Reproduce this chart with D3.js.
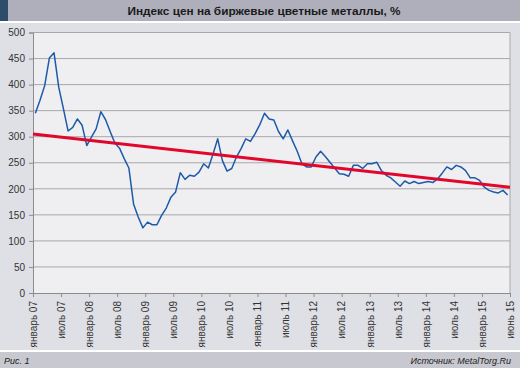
<!DOCTYPE html>
<html><head><meta charset="utf-8">
<script src="https://cdn.jsdelivr.net/npm/d3@7"></script>
<style>body{margin:0;background:#dfe0e5;}svg{display:block;}</style>
</head><body>
<script>
const titleText = "Индекс цен на биржевые цветные металлы, %";
const figLabel = "Рис. 1";
const sourceLabel = "Источник: MetalTorg.Ru";
// monthly index, January 2007 – June 2015
const values = [345,370,398,451,461,395,354,311,318,334,322,283,
  299,315,348,333,310,288,278,258,240,171,146,125,
  136,131,131,149,163,184,194,231,218,226,224,232,
  248,240,267,296,254,234,239,261,277,296,291,306,
  323,345,334,332,310,296,313,292,272,248,242,242,
  261,272,262,251,240,229,228,224,245,245,239,248,
  248,251,235,226,221,213,205,215,210,214,210,212,
  214,212,219,230,242,237,245,242,235,221,221,216,
  203,197,194,192,197,188];
const trendEnds = [305, 203];
const tickMonths = [0,6,12,18,24,30,36,42,48,54,60,66,72,78,84,90,96,102];
const tickLabels = ["январь 07","июль 07","январь 08","июль 08","январь 09","июль 09",
  "январь 10","июль 10","январь 11","июль 11","январь 12","июль 12",
  "январь 13","июль 13","январь 14","июль 14","январь 15","июнь 15"];
const yTicks = [0,50,100,150,200,250,300,350,400,450,500];

const W=520,H=368;
const svg=d3.select("body").append("svg").attr("width",W).attr("height",H);
const font="'Liberation Sans', Arial, Helvetica, sans-serif";

// backgrounds
svg.append("rect").attr("width",W).attr("height",H).attr("fill","#dfe0e5");
svg.append("rect").attr("width",W).attr("height",21).attr("fill","#aeafbb");
svg.append("rect").attr("width",8).attr("height",21).attr("fill","#2e4d6b");
svg.append("rect").attr("y",21).attr("width",W).attr("height",2).attr("fill","#ffffff");
svg.append("rect").attr("y",350).attr("width",W).attr("height",2).attr("fill","#ffffff");
svg.append("rect").attr("y",352).attr("width",W).attr("height",16).attr("fill","#c7c8d0");

svg.append("text").attr("x",264).attr("y",15).attr("text-anchor","middle")
  .attr("font-family",font).attr("font-weight","bold").attr("font-size",11.8)
  .attr("fill","#1a1a1a").text(titleText);
svg.append("text").attr("x",4).attr("y",364).attr("font-family",font)
  .attr("font-style","italic").attr("font-size",9).attr("fill","#222").text(figLabel);
svg.append("text").attr("x",511).attr("y",364).attr("text-anchor","end").attr("font-family",font)
  .attr("font-style","italic").attr("font-size",9).attr("fill","#222").text(sourceLabel);

const L=33,R=510,T=32.5,B=293;
const x=d3.scaleLinear().domain([0,102]).range([L,R]);
const y=d3.scaleLinear().domain([0,500]).range([B,T]);

svg.append("rect").attr("x",L).attr("y",T).attr("width",R-L).attr("height",B-T).attr("fill","#efeff2");

// grid
svg.append("g").selectAll("line").data(yTicks.filter(d=>d>0)).join("line")
  .attr("x1",L).attr("x2",R).attr("y1",d=>y(d)).attr("y2",d=>y(d))
  .attr("stroke","#a8a8ac").attr("stroke-width",1);
svg.append("line").attr("x1",R).attr("x2",R).attr("y1",T).attr("y2",B)
  .attr("stroke","#a8a8ac").attr("stroke-width",1);

// y axis
const ya=svg.append("g").attr("transform",`translate(${L},0)`)
  .call(d3.axisLeft(y).tickValues(yTicks).tickSize(4).tickPadding(4));
ya.select(".domain").attr("stroke","#8c8c90");
ya.selectAll(".tick line").attr("stroke","#8c8c90");
ya.selectAll("text").attr("font-family",font).attr("font-size",10).attr("fill","#333");

// x axis
const xa=svg.append("g").attr("transform",`translate(0,${B})`)
  .call(d3.axisBottom(x).tickValues(tickMonths).tickFormat((d,i)=>tickLabels[i]).tickSize(4).tickSizeOuter(0));
xa.select(".domain").attr("stroke","#8c8c90");
xa.selectAll(".tick line").attr("stroke","#8c8c90");
xa.selectAll("text").attr("font-family",font).attr("font-size",10).attr("fill","#333")
  .attr("transform","rotate(-90)").attr("text-anchor","end").attr("dy","0.33em")
  .attr("x",-8).attr("y",0);

// data line
const line=d3.line().x((d,i)=>x(i+0.5)).y(d=>y(d));
svg.append("path").datum(values).attr("d",line).attr("fill","none")
  .attr("stroke","#1d5aa8").attr("stroke-width",1.5).attr("stroke-linejoin","round");

// trend line
svg.append("line").attr("x1",x(0)).attr("x2",x(102))
  .attr("y1",y(trendEnds[0])).attr("y2",y(trendEnds[1]))
  .attr("stroke","#e3062c").attr("stroke-width",3);
</script>
</body></html>
